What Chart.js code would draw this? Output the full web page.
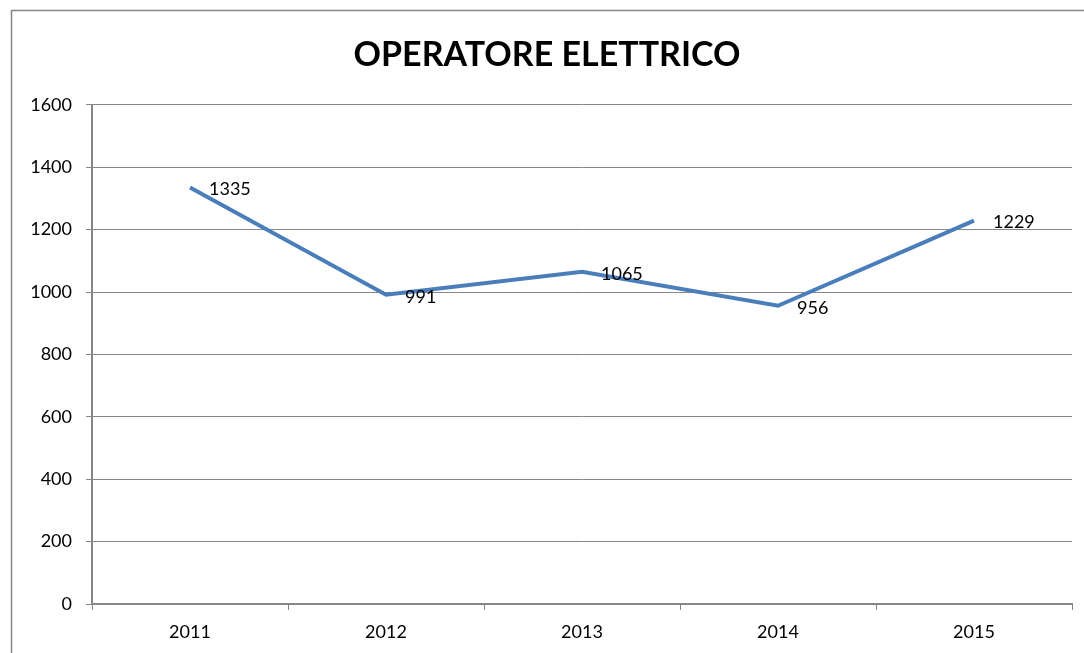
<!DOCTYPE html>
<html>
<head>
<meta charset="utf-8">
<script src="https://cdn.jsdelivr.net/npm/chart.js@4"></script>
<style>
  html, body { margin: 0; padding: 0; background: #fff; }
  canvas { display: block; }
</style>
</head>
<body>
<canvas id="myChart" width="1084" height="653"></canvas>
<script>
// Chart data
const years = ['2011', '2012', '2013', '2014', '2015'];
const values = [1335, 991, 1065, 956, 1229];
const yTicks = [0, 200, 400, 600, 800, 1000, 1200, 1400, 1600];

const gridGray = '#868686';
const lineBlue = '#4a7ebb';
const fontFamily = 'Lato, "Liberation Sans", sans-serif';

// Outer frame of the chart (like the Excel chart border)
const frame = {
    id: 'frame',
    beforeDraw(chart) {
        const ctx = chart.ctx;
        ctx.save();
        ctx.fillStyle = '#fff';
        ctx.fillRect(0, 0, chart.width, chart.height);
        ctx.strokeStyle = gridGray;
        ctx.lineWidth = 1.5;
        ctx.strokeRect(11.5, 10.5, chart.width + 20, chart.height + 20);
        ctx.restore();
    }
};

// Value labels to the right of each point
const valueLabels = {
    id: 'valueLabels',
    afterDatasetsDraw(chart) {
        const ctx = chart.ctx;
        const meta = chart.getDatasetMeta(0);
        ctx.save();
        ctx.font = '18px ' + fontFamily;
        ctx.fillStyle = '#000';
        ctx.textAlign = 'left';
        ctx.textBaseline = 'middle';
        meta.data.forEach((pt, i) => {
            ctx.fillText(String(values[i]), pt.x + 19, pt.y + 2);
        });
        ctx.restore();
    }
};

function initChart() {
    const data = {
        labels: years,
        datasets: [{
            label: 'OPERATORE ELETTRICO',
            data: values,
            borderColor: lineBlue,
            borderWidth: 4,
            pointRadius: 0,
            pointHoverRadius: 0,
            fill: false,
            tension: 0
        }]
    };
    const config = {
        type: 'line',
        data: data,
        plugins: [frame, valueLabels],
        options: {
            responsive: false,
            animation: false,
            layout: { padding: { left: 22, right: 12, top: 0, bottom: 0 } },
            plugins: {
                legend: { display: false },
                tooltip: { enabled: false },
                title: {
                    display: true,
                    text: 'OPERATORE ELETTRICO',
                    color: '#000',
                    font: { family: fontFamily, size: 34, weight: 'bold' },
                    padding: { top: 35, bottom: 29 }
                }
            },
            scales: {
                x: {
                    offset: true,
                    grid: {
                        offset: true,
                        drawOnChartArea: false,
                        drawTicks: true,
                        tickLength: 6,
                        color: gridGray,
                        lineWidth: 1
                    },
                    border: { color: gridGray, width: 2 },
                    ticks: {
                        color: '#000',
                        padding: 11,
                        maxRotation: 0,
                        font: { family: fontFamily, size: 18 }
                    },
                    afterFit(axis) { axis.height = 49; }
                },
                y: {
                    min: 0,
                    max: 1600,
                    afterBuildTicks(axis) {
                        axis.ticks = yTicks.map(v => ({ value: v }));
                    },
                    grid: {
                        color: gridGray,
                        lineWidth: 1,
                        tickLength: 6
                    },
                    border: { color: gridGray, width: 2 },
                    ticks: {
                        color: '#000',
                        padding: 14,
                        font: { family: fontFamily, size: 18 },
                        callback: v => String(v)
                    },
                    afterFit(axis) { axis.width = 70; }
                }
            }
        }
    };
    new Chart(document.getElementById('myChart'), config);
}

document.addEventListener('DOMContentLoaded', function() {
    initChart();
});
</script>
</body>
</html>
